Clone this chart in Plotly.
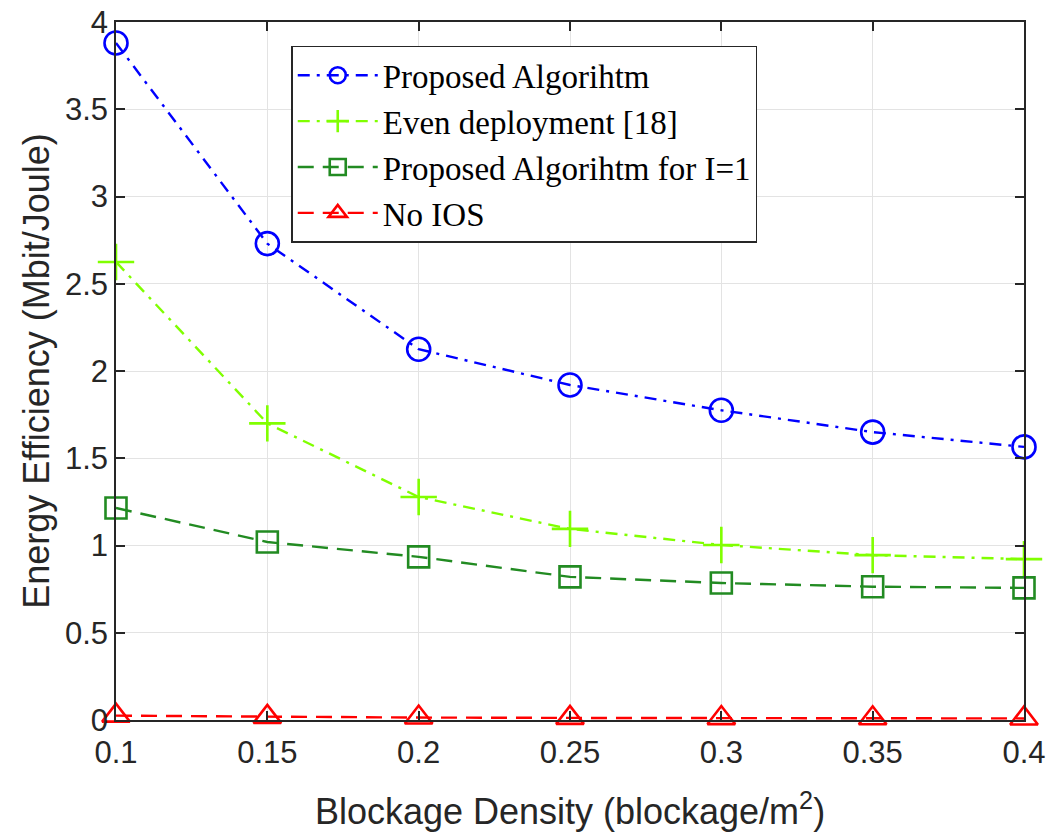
import plotly.graph_objects as go

# Blockage density values (blockage/m^2)
density = [0.1, 0.15, 0.2, 0.25, 0.3, 0.35, 0.4]
x_tick_text = ["0.1", "0.15", "0.2", "0.25", "0.3", "0.35", "0.4"]
y_tick_vals = [0, 0.5, 1, 1.5, 2, 2.5, 3, 3.5, 4]
y_tick_text = ["0", "0.5", "1", "1.5", "2", "2.5", "3", "3.5", "4"]

# Energy efficiency (Mbit/Joule) for each scheme
ee_proposed = [3.88, 2.73, 2.125, 1.92, 1.775, 1.65, 1.565]
ee_even = [2.625, 1.70, 1.278, 1.095, 1.003, 0.945, 0.922]
ee_proposed_i1 = [1.215, 1.02, 0.935, 0.82, 0.785, 0.764, 0.757]
ee_no_ios = [0.025, 0.018, 0.014, 0.012, 0.011, 0.010, 0.009]

series = [
    ("Proposed Algorihtm", ee_proposed, "#0000FF", "12px,7px,3px,7px", "circle-open", 23),
    ("Even deployment [18]", ee_even, "#80FF00", "12px,7px,3px,7px", "cross-thin-open", 26),
    ("Proposed Algorihtm for I=1", ee_proposed_i1, "#228B22", "16px,9px", "square-open", 21),
    ("No IOS", ee_no_ios, "#FF0000", "16px,9px", "triangle-up-open", 24),
]

fig = go.Figure()
for name, ys, color, dash, symbol, size in series:
    fig.add_trace(go.Scatter(
        x=density, y=ys, name=name, mode="lines+markers", cliponaxis=False,
        line=dict(color=color, width=2.4, dash=dash),
        marker=dict(symbol=symbol, size=size, color=color,
                    line=dict(color=color, width=2.6)),
    ))

sans = "Liberation Sans, Arial, Helvetica, sans-serif"
axis_common = dict(
    showline=True, linecolor="#262626", linewidth=1.5, mirror="ticks",
    ticks="inside", ticklen=9, tickcolor="#262626", tickwidth=1.5,
    showgrid=True, gridcolor="#E3E3E3", gridwidth=1, zeroline=False,
    automargin=False,
    tickfont=dict(family=sans, size=31, color="#262626"),
)

fig.update_layout(
    width=1048, height=833,
    margin=dict(l=116, r=24, t=22, b=113),
    paper_bgcolor="white", plot_bgcolor="white",
    xaxis=dict(range=[0.1, 0.4], tickvals=density, ticktext=x_tick_text,
               ticklabelstandoff=4,
               title=dict(text="Blockage Density (blockage/m<sup>2</sup>)", standoff=30,
                          font=dict(family=sans, size=36, color="#262626")),
               **axis_common),
    yaxis=dict(range=[0, 4], tickvals=y_tick_vals, ticktext=y_tick_text,
               title=dict(text="Energy Efficiency (Mbit/Joule)", standoff=4,
                          font=dict(family=sans, size=36, color="#262626")),
               **axis_common),
    legend=dict(x=0.193, y=0.966, xanchor="left", yanchor="top",
                bgcolor="white", bordercolor="#262626", borderwidth=1.5,
                font=dict(family="Liberation Serif, Times New Roman, serif", size=33, color="black"),
                tracegroupgap=0, itemwidth=80,
                entrywidth=495, entrywidthmode="pixels"),
    showlegend=True,
)

fig.write_html("out.html")
